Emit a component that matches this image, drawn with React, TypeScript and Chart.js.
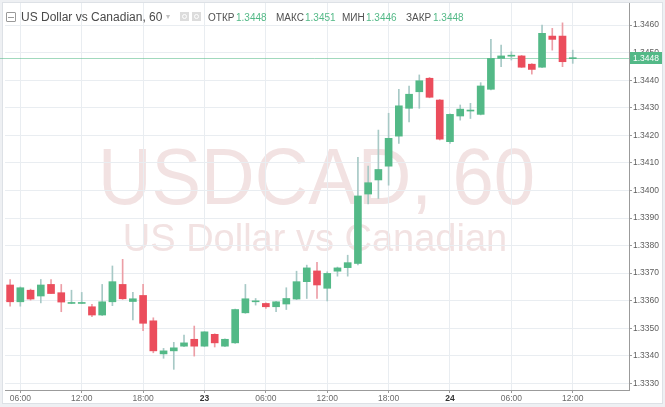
import React, { useEffect, useRef } from 'react';
import { Chart, registerables } from 'chart.js';

Chart.register(...registerables);

// hourly categories: 22nd 05:00 .. 24th 12:00 (+ 5 empty future slots)
const hours = [
  '05', '06', '07', '08', '09', '10', '11', '12', '13', '14', '15', '16', '17', '18', '19', '20', '21', '22', '23',
  '00', '01', '02', '03', '04', '05', '06', '07', '08', '09', '10', '11', '12', '13', '14', '15', '16', '17', '18', '19', '20', '21', '22', '23',
  '00', '01', '02', '03', '04', '05', '06', '07', '08', '09', '10', '11', '12', '13', '14', '15', '16', '17',
];

const opens = [
  1.33657, 1.33596, 1.33638, 1.33617, 1.33659, 1.33629, 1.33590, 1.33590, 1.33578, 1.33548,
  1.33596, 1.33659, 1.33597, 1.33619, 1.33527, 1.33407, 1.33418, 1.33435, 1.33460, 1.33435,
  1.33478, 1.33435, 1.33447, 1.33556, 1.33596, 1.33590, 1.33578, 1.33588, 1.33606, 1.33669,
  1.33708, 1.33645, 1.33707, 1.33720, 1.33735, 1.33987, 1.34038, 1.34088, 1.34197, 1.34298,
  1.34358, 1.34407, 1.34328, 1.34177, 1.34270, 1.34288, 1.34276, 1.34367, 1.34479, 1.34487,
  1.34488, 1.34458, 1.34447, 1.34560, 1.34560, 1.34478,
];
const highs = [
  1.33677, 1.33650, 1.33642, 1.33677, 1.33677, 1.33659, 1.33638, 1.33630, 1.33587, 1.33659,
  1.33726, 1.33750, 1.33630, 1.33659, 1.33538, 1.33427, 1.33449, 1.33475, 1.33508, 1.33488,
  1.33480, 1.33462, 1.33570, 1.33659, 1.33608, 1.33592, 1.33598, 1.33647, 1.33707, 1.33729,
  1.33739, 1.33705, 1.33722, 1.33765, 1.34120, 1.34088, 1.34219, 1.34280, 1.34367, 1.34379,
  1.34419, 1.34410, 1.34330, 1.34278, 1.34310, 1.34316, 1.34391, 1.34548, 1.34527, 1.34503,
  1.34490, 1.34460, 1.34600, 1.34588, 1.34608, 1.34509,
];
const lows = [
  1.33580, 1.33580, 1.33602, 1.33592, 1.33626, 1.33560, 1.33589, 1.33589, 1.33542, 1.33546,
  1.33582, 1.33605, 1.33530, 1.33491, 1.33411, 1.33391, 1.33351, 1.33433, 1.33399, 1.33433,
  1.33432, 1.33433, 1.33445, 1.33554, 1.33584, 1.33572, 1.33560, 1.33568, 1.33604, 1.33608,
  1.33608, 1.33599, 1.33689, 1.33689, 1.33730, 1.33951, 1.33971, 1.34019, 1.34171, 1.34249,
  1.34298, 1.34336, 1.34183, 1.34171, 1.34255, 1.34261, 1.34274, 1.34365, 1.34449, 1.34473,
  1.34446, 1.34422, 1.34445, 1.34509, 1.34449, 1.34461,
];
const closes = [
  1.33596, 1.33647, 1.33606, 1.33657, 1.33626, 1.33595, 1.33591, 1.33591, 1.33548, 1.33596,
  1.33669, 1.33607, 1.33607, 1.33518, 1.33418, 1.33418, 1.33429, 1.33447, 1.33435, 1.33487,
  1.33447, 1.33460, 1.33568, 1.33607, 1.33597, 1.33578, 1.33596, 1.33608, 1.33669, 1.33719,
  1.33657, 1.33699, 1.33719, 1.33738, 1.33980, 1.34028, 1.34076, 1.34189, 1.34307, 1.34349,
  1.34398, 1.34338, 1.34186, 1.34276, 1.34295, 1.34289, 1.34379, 1.34479, 1.34488, 1.34488,
  1.34447, 1.34439, 1.34570, 1.34548, 1.34467, 1.34480,
];

const tickIndex = [1, 7, 13, 19, 25, 31, 37, 43, 49, 55];
const tickLabels = ['06:00', '12:00', '18:00', '23', '06:00', '12:00', '18:00', '24', '06:00', '12:00'];
const boldLabels = ['23', '24'];

const yMin = 1.33276;
const yMax = 1.3468;
const yStep = 0.001;
const lastPrice = 1.3448;

const symbolTitle = 'US Dollar vs Canadian, 60';
const ohlcNames = ['ОТКР', 'МАКС', 'МИН', 'ЗАКР'];
const ohlcValues = ['1.3448', '1.3451', '1.3446', '1.3448'];
const watermarkBig = 'USDCAD, 60';
const watermarkSmall = 'US Dollar vs Canadian';

const UP = '#53b987';
const DOWN = '#eb4d5c';
const UP_WICK = '#a7c9c6';
const DOWN_WICK = '#ec9ea6';
const GRID = '#e9edf1';
const AXIS = '#9b9b9b';
const FONT = '"Liberation Sans", Arial, sans-serif';

const overlayPlugin = {
  id: 'overlayPlugin',
  beforeDraw(chart: any) {
    const { ctx, chartArea } = chart;
    const cx = (chartArea.left + chartArea.right) / 2;
    const cy = (chartArea.top + chartArea.bottom) / 2;
    ctx.save();
    ctx.fillStyle = '#f2e2e2';
    ctx.textAlign = 'center';
    ctx.textBaseline = 'alphabetic';
    ctx.font = `80px ${FONT}`;
    ctx.fillText(watermarkBig, cx - 0.5, cy + 7.5, 437);
    ctx.font = `38px ${FONT}`;
    ctx.fillText(watermarkSmall, cx - 2, cy + 54.5, 392);
    ctx.restore();
  },
  beforeDatasetsDraw(chart: any) {
    const { ctx, chartArea, scales } = chart;
    const y = Math.round(scales.y.getPixelForValue(lastPrice)) + 0.5;
    ctx.save();
    ctx.strokeStyle = 'rgba(83,185,135,0.55)';
    ctx.lineWidth = 1;
    ctx.beginPath();
    ctx.moveTo(0, y);
    ctx.lineTo(chartArea.right, y);
    ctx.stroke();
    ctx.restore();
  },
  afterDraw(chart: any) {
    const { ctx, chartArea, scales } = chart;
    const y = Math.round(scales.y.getPixelForValue(lastPrice));
    ctx.save();
    ctx.fillStyle = UP;
    ctx.fillRect(chartArea.right + 1, y - 6, 32, 12);
    ctx.fillStyle = '#ffffff';
    ctx.font = `8.5px ${FONT}`;
    ctx.textAlign = 'left';
    ctx.textBaseline = 'middle';
    ctx.fillText(lastPrice.toFixed(4), chartArea.right + 4, y + 0.5);
    ctx.restore();
  },
};

export default function App() {
  const ref = useRef<HTMLCanvasElement | null>(null);

  useEffect(() => {
    if (!ref.current) return;
    const up = closes.map((c, i) => c >= opens[i]);
    const chart = new Chart(ref.current, {
      type: 'bar',
      data: {
        labels: hours,
        datasets: [
          {
            label: 'body',
            data: opens.map((o, i) => [o, closes[i]]) as any,
            backgroundColor: up.map((u) => (u ? UP : DOWN)),
            borderWidth: 0,
            barThickness: 7,
            minBarLength: 1,
            grouped: false,
            order: 0,
          } as any,
          {
            label: 'wick',
            data: lows.map((l, i) => [l, highs[i]]) as any,
            backgroundColor: up.map((u) => (u ? UP_WICK : DOWN_WICK)),
            borderWidth: 0,
            barThickness: 1,
            grouped: false,
            order: 1,
          } as any,
        ],
      },
      options: {
        responsive: false,
        animation: false,
        devicePixelRatio: 1,
        events: [],
        layout: { padding: { left: 5, right: 3, top: 3, bottom: 3 } },
        plugins: {
          legend: { display: false },
          tooltip: { enabled: false },
          title: { display: false },
        },
        scales: {
          x: {
            type: 'category',
            offset: true,
            grid: {
              offset: false,
              color: (c: any) => (tickIndex.includes(c.index) ? GRID : 'rgba(0,0,0,0)'),
              tickColor: (c: any) => (tickIndex.includes(c.index) ? AXIS : 'rgba(0,0,0,0)'),
              tickLength: 3,
              drawTicks: true,
            },
            border: { color: AXIS },
            ticks: {
              autoSkip: false,
              maxRotation: 0,
              minRotation: 0,
              padding: 1,
              color: (c: any) => (boldLabels.includes(c.tick?.label) ? '#333333' : '#6a6a6a'),
              font: (c: any) => ({
                size: 8.5,
                family: FONT,
                weight: boldLabels.includes(c.tick?.label) ? 'bold' : 'normal',
              }),
              callback: (_v: any, i: number) => {
                const k = tickIndex.indexOf(i);
                return k >= 0 ? tickLabels[k] : '';
              },
            },
            afterFit: (s: any) => {
              s.height = 14;
              s.paddingLeft = 0;
              s.paddingRight = 0;
            },
          } as any,
          y: {
            position: 'right',
            min: yMin,
            max: yMax,
            grid: { color: GRID, tickColor: AXIS, tickLength: 3, drawTicks: true },
            border: { color: AXIS },
            ticks: {
              stepSize: yStep,
              includeBounds: false,
              padding: 1,
              color: '#5e5e5e',
              font: { size: 8.5, family: FONT },
              callback: (v: any) => Number(v).toFixed(4),
            },
            afterFit: (s: any) => {
              s.width = 33;
              s.paddingTop = 0;
              s.paddingBottom = 0;
            },
          } as any,
        },
      },
      plugins: [overlayPlugin],
    });
    return () => chart.destroy();
  }, []);

  const labelStyle: React.CSSProperties = {
    position: 'absolute',
    top: 12,
    fontSize: 10,
    lineHeight: '12px',
    fontFamily: FONT,
    color: '#505050',
    whiteSpace: 'nowrap',
  };
  const valueStyle: React.CSSProperties = { ...labelStyle, color: UP };
  const labelX = [208, 276, 342, 406];
  const valueX = [236, 305, 366, 433];

  return (
    <div
      style={{
        position: 'fixed',
        left: 0,
        top: 0,
        width: 665,
        height: 407,
        background: '#eef0f3',
        overflow: 'hidden',
      }}
    >
      <div
        style={{
          position: 'absolute',
          left: 2,
          top: 2,
          width: 659,
          height: 400,
          background: '#ffffff',
          border: '1px solid #dde1e6',
        }}
      />
      <canvas
        ref={ref}
        width={665}
        height={407}
        style={{ position: 'absolute', left: 0, top: 0, width: 665, height: 407, display: 'block' }}
      />
      <div style={{ position: 'absolute', left: 0, top: 0, width: 620, height: 30 }}>
        <span
          style={{
            position: 'absolute',
            left: 6,
            top: 12,
            width: 8,
            height: 8,
            border: '1px solid #9a9a9a',
            borderRadius: 1,
          }}
        >
          <span style={{ position: 'absolute', left: 1, top: 3.5, width: 6, height: 1, background: '#9a9a9a' }} />
        </span>
        <span
          style={{
            position: 'absolute',
            left: 21,
            top: 10,
            fontSize: 12,
            lineHeight: '14px',
            fontFamily: FONT,
            color: '#4a4a4a',
            whiteSpace: 'nowrap',
          }}
        >
          {symbolTitle}
        </span>
        <span
          style={{
            position: 'absolute',
            left: 166,
            top: 11,
            fontSize: 8,
            lineHeight: '12px',
            fontFamily: FONT,
            color: '#c0c0c0',
          }}
        >
          ▾
        </span>
        {[180, 192].map((x) => (
          <span
            key={x}
            style={{ position: 'absolute', left: x, top: 12, width: 9, height: 9, background: '#dcdcdc' }}
          >
            <span
              style={{
                position: 'absolute',
                left: 2,
                top: 2,
                width: 3,
                height: 3,
                border: '1px solid #ffffff',
                borderRadius: '50%',
              }}
            />
          </span>
        ))}
        {ohlcNames.map((n, i) => (
          <span key={'n' + i} style={{ ...labelStyle, left: labelX[i] }}>
            {n}
          </span>
        ))}
        {ohlcValues.map((v, i) => (
          <span key={'v' + i} style={{ ...valueStyle, left: valueX[i] }}>
            {v}
          </span>
        ))}
      </div>
    </div>
  );
}
